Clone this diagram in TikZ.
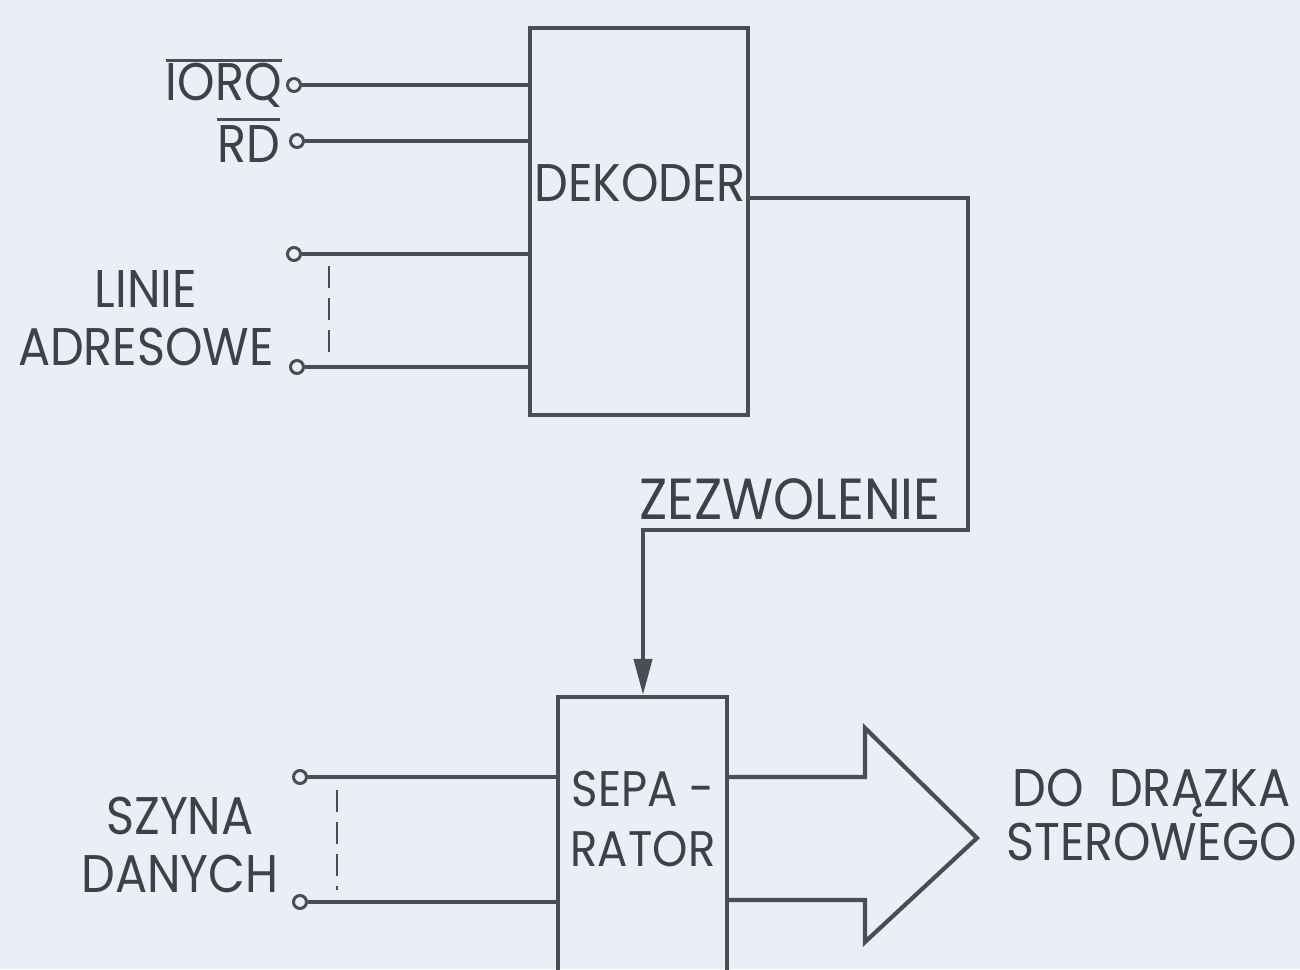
\documentclass[tikz,border=0pt]{standalone}
\usepackage{fontspec}
\setmainfont{Poppins}[FakeStretch=0.9]
\usetikzlibrary{arrows.meta}
\definecolor{bg}{RGB}{234,238,245}
\definecolor{ink}{RGB}{74,76,86}
\begin{document}
\begin{tikzpicture}[x=1pt,y=-1pt,
  wire/.style={draw=ink,line width=4.2pt},
  box/.style={draw=ink,line width=4.2pt,rectangle,inner sep=0pt},
  term/.style={circle,draw=ink,fill=bg,line width=3pt,minimum size=13pt,inner sep=0pt},
  lbl/.style={text=ink!85!black,font=\fontsize{53}{58}\selectfont,inner sep=0pt,align=center},
  ovl/.style={draw=ink,line width=3pt},
  dsh/.style={draw=ink,line width=2.6pt,dash pattern=on 22pt off 10pt}]
\fill[bg] (0,0) rectangle (1300,969);
\useasboundingbox (0,0) rectangle (1300,969);
\clip (0,0) rectangle (1300,969);
% boxes
\node[box,minimum width=218pt,minimum height=387pt] (dek) at (639,221.5) {};
\node[lbl] (dektxt) at (640,183) {DEKODER};
\node[box,minimum width=169pt,minimum height=300pt] (sep) at (642.5,847) {};
\node[lbl,font=\fontsize{50}{56}\selectfont] (septxt) at (643,819) {SEPA -\\[4pt]RATOR};
% terminals
\node[term] (tiorq) at (294,85) {};
\node[term] (trd) at (297,141) {};
\node[term] (ta1) at (294,254) {};
\node[term] (ta2) at (297,367) {};
\node[term] (td1) at (300,777) {};
\node[term] (td2) at (300,902) {};
% input wires
\draw[wire] (tiorq.east) -- (tiorq -| dek.west);
\draw[wire] (trd.east) -- (trd -| dek.west);
\draw[wire] (ta1.east) -- (ta1 -| dek.west);
\draw[wire] (ta2.east) -- (ta2 -| dek.west);
\draw[wire] (td1.east) -- (td1 -| sep.west);
\draw[wire] (td2.east) -- (td2 -| sep.west);
% dashed bus marks
\coordinate (da1) at (329,266);
\coordinate (da2) at (329,356);
\draw[dsh] (da1) -- (da2);
\coordinate (dd1) at (337,790);
\coordinate (dd2) at (337,890);
\draw[dsh] (dd1) -- (dd2);
% labels
\node[lbl,anchor=east] (liorq) at (282,85) {IORQ};
\draw[ovl] ([yshift=2pt]liorq.north west) -- ([yshift=2pt]liorq.north east);
\node[lbl,anchor=east] (lrd) at (280,144) {RD};
\draw[ovl] ([yshift=6pt]lrd.north west) -- ([yshift=6pt]lrd.north east);
\node[lbl] (ladr) at (146,318) {LINIE\\[0pt]ADRESOWE};
\node[lbl] (lszy) at (180,845) {SZYNA\\[0pt]DANYCH};
\node[lbl,font=\fontsize{58}{60}\selectfont] (lzez) at (790,499) {ZEZWOLENIE};
\node[lbl,anchor=west] (ldo) at (1006,815) {DO\ \ DRĄZKA\\[-4pt]STEROWEGO};
% enable line
\coordinate (c1) at (968,198);
\coordinate (c2) at (643,530);
\draw[wire,-{Triangle[length=36pt,width=18pt]}] (dek.east |- c1) -- (c1) |- (c2) -- (c2 |- sep.north);
% big arrow
\coordinate (a1) at (865,777);
\coordinate (a2) at (865,728);
\coordinate (tip) at (977,838);
\coordinate (a3) at (865,942);
\coordinate (a4) at (865,900);
\draw[wire,line join=miter] (sep.east |- a1) -- (a1) -- (a2) -- (tip) -- (a3) -- (a4) -- (sep.east |- a4);
\end{tikzpicture}
\end{document}
